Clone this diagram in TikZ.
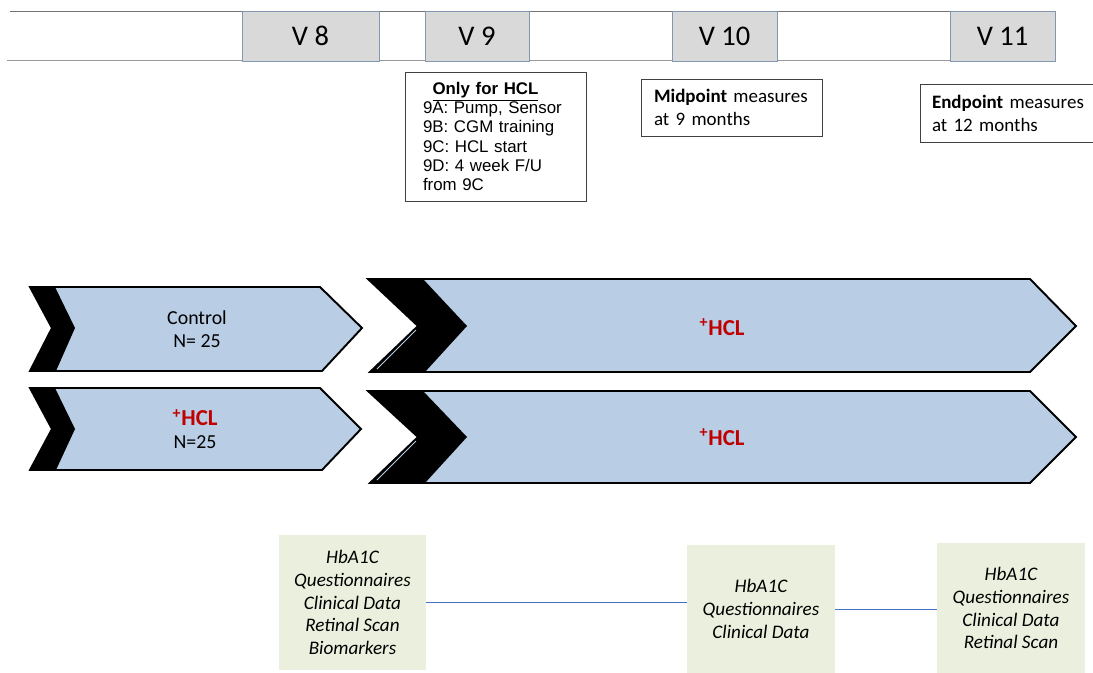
\documentclass[tikz,border=0pt]{standalone}
\usepackage{fontspec}
\setmainfont{Carlito}
\newfontfamily\arialfont{Liberation Sans}
\usetikzlibrary{positioning,shadows}
\definecolor{visitgrey}{RGB}{217,217,217}
\definecolor{visitedge}{RGB}{132,151,176}
\definecolor{armblue}{RGB}{185,205,229}
\definecolor{hclred}{RGB}{192,0,0}
\definecolor{measurefill}{RGB}{235,240,222}
\definecolor{linkblue}{RGB}{68,114,196}
\tikzset{
	visit/.style={draw=visitedge, fill=visitgrey, minimum height=1cm, inner sep=0pt,
		font=\fontsize{16.2}{18}\selectfont,
		drop shadow={shadow xshift=0.7pt, shadow yshift=-0.7pt, fill=black!30}},
	note/.style={draw=black!75, fill=white, inner ysep=0pt, align=left},
	arm/.style={fill=armblue, draw=black, line width=1.1pt, line join=miter},
	armtext/.style={align=center, font=\fontsize{11.3}{13}\selectfont},
	hcl/.style={text=hclred, font=\fontsize{13}{13}\selectfont\bfseries},
	measure/.style={fill=measurefill, inner sep=0pt, align=center,
		font=\fontsize{10.9}{13}\selectfont\itshape},
	link/.style={draw=linkblue, line width=0.5pt}
}

\begin{document}
\begin{tikzpicture}[x=0.02cm, y=-0.02cm]
		\useasboundingbox (0,0) rectangle (1093,673);
		% visit timeline
		\draw[black!55] (10,11) -- (1055,11);
		\draw[black!40] (7,60) -- (950,60);
		\node[visit, minimum width=2.74cm] (v8) at (310.5,36) {V 8};
		\node[visit, minimum width=2.08cm] (v9) at (477,36) {V 9};
		\node[visit, minimum width=2.1cm] (v10) at (724.5,36) {V 10};
		\node[visit, minimum width=2.1cm] (v11) at (1002.5,36) {V 11};
		% notes under the visits
		\node[note, text width=2.9cm, inner xsep=0.36cm, minimum height=2.58cm,
			font=\arialfont\fontsize{9.6}{11}\selectfont] (hclnote) at (495.5,136.5)
			{{\centering\hspace*{-0.4cm}\underline{\textbf{Only for HCL}}\par}9A: Pump, Sensor\\9B: CGM training\\9C: HCL start\\9D: 4 week F/U\\from 9C};
		\node[note, text width=3.1cm, inner xsep=0.26cm, minimum height=1.14cm,
			font=\fontsize{10.8}{13}\selectfont] (midnote) at (731.5,107.5)
			{\textbf{Midpoint} measures\\at 9 months};
		\node[note, text width=3.2cm, inner xsep=0.24cm, minimum height=1.16cm,
			font=\fontsize{10.8}{13}\selectfont] (endnote) at (1012,113)
			{\textbf{Endpoint} measures\\at 12 months};
		% study arms
		\draw[arm] (30,287) -- (320,287) -- (362,328) -- (322,371) -- (30,371) -- (52,328) -- cycle;
		\fill (30,287) -- (55,287) -- (75,328) -- (56,371) -- (30,371) -- (52,328) -- cycle;
		\draw[arm] (30,388) -- (320,388) -- (361,429) -- (322,470) -- (30,470) -- (52,429) -- cycle;
		\fill (30,388) -- (55,388) -- (75,429) -- (56,470) -- (30,470) -- (52,429) -- cycle;
		\draw[arm] (368,279) -- (1030,279) -- (1076,326) -- (1030,372) -- (370,372) -- (418,326) -- cycle;
		\fill (368,279) -- (423,279) -- (467,326) -- (425,372) -- (370,372) -- (418,326) -- cycle;
		\draw[armblue, line width=0.5pt] (416,330) -- (377,369);
		\draw[arm] (368,391) -- (1030,391) -- (1076,437) -- (1030,483) -- (370,483) -- (418,437) -- cycle;
		\fill (368,391) -- (423,391) -- (467,437) -- (425,483) -- (370,483) -- (418,437) -- cycle;
		\draw[armblue, line width=0.5pt] (416,441) -- (377,480);
		\node[armtext] (control) at (197,329) {Control\\N= 25};
		\node[armtext] (hclarm) at (195,429)
			{\textcolor{hclred}{\fontsize{13}{13}\selectfont\bfseries\textsuperscript{+}HCL}\\N=25};
		\node[hcl] (hcltop) at (722,327) {\textsuperscript{+}HCL};
		\node[hcl] (hclbot) at (722,437) {\textsuperscript{+}HCL};
		% measures
		\node[measure, minimum width=2.94cm, minimum height=2.7cm] (basemeas) at (352.5,602.5)
			{HbA1C\\Questionnaires\\Clinical Data\\Retinal Scan\\Biomarkers};
		\node[measure, minimum width=2.96cm, minimum height=2.58cm] (midmeas) at (761,609)
			{HbA1C\\Questionnaires\\Clinical Data};
		\node[measure, minimum width=2.96cm, minimum height=2.6cm] (endmeas) at (1011,608)
			{HbA1C\\Questionnaires\\Clinical Data\\Retinal Scan};
		\draw[link] (basemeas.east) -- (basemeas.east -| midmeas.west);
		\draw[link] (midmeas.east) -- (midmeas.east -| endmeas.west);
	\end{tikzpicture}
\end{document}
